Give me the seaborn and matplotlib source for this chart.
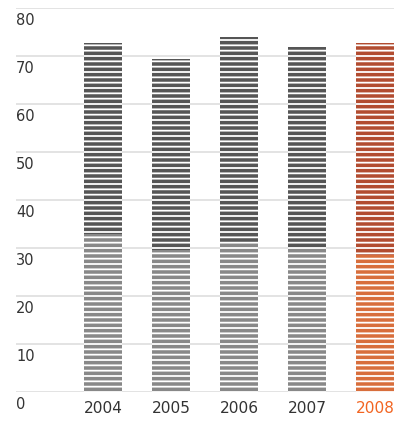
import matplotlib
matplotlib.use("Agg")
import matplotlib.pyplot as plt
import matplotlib.transforms as mtransforms
import seaborn as sns
import pandas as pd

# values
years = ["2004", "2005", "2006", "2007", "2008"]
totals = [72.7, 69.4, 73.9, 71.8, 72.8]
lower_part = [33.0, 29.6, 31.0, 30.0, 28.5]
yticks = [0, 10, 20, 30, 40, 50, 60, 70, 80]

dark_colors = ["#555555", "#555555", "#555555", "#555555", "#c83f1a"]
light_colors = ["#888888", "#888888", "#888888", "#888888", "#f26522"]
label_colors = ["#333333", "#333333", "#333333", "#333333", "#f26522"]

df = pd.DataFrame({"year": years, "total": totals, "lower": lower_part})

sns.set_style("white")
plt.rcParams["font.family"] = ["DejaVu Sans"]
plt.rcParams["hatch.linewidth"] = 1.35

DPI = 96
fig = plt.figure(figsize=(402 / DPI, 424 / DPI), dpi=DPI)
ax = fig.add_axes([16 / 402, 1 - 392 / 424, 378 / 402, 384 / 424])

sns.barplot(data=df, x="year", y="total", hue="year", legend=False,
            palette=dict(zip(years, dark_colors)), width=0.56, ax=ax)
sns.barplot(data=df, x="year", y="lower", hue="year", legend=False,
            palette=dict(zip(years, light_colors)), width=0.56, ax=ax)

# striped look: white horizontal hatch over the solid bars
for p in ax.patches:
    p.set_hatch("---")
    p.set_edgecolor("white")
    p.set_linewidth(0)

ax.set_xlim(-1.28, 4.28)
ax.set_ylim(0, 80)
ax.set_yticks(yticks)
ax.set_yticklabels([])
ax.tick_params(axis="y", length=0)
ax.yaxis.grid(True, color="#dddddd", linewidth=1.2)
ax.set_axisbelow(True)
for s in ax.spines.values():
    s.set_visible(False)

# y labels sit just under each grid line, at the left edge
trans = mtransforms.blended_transform_factory(ax.transAxes, ax.transData)
off = mtransforms.ScaledTranslation(0, -3.5 / 72, fig.dpi_scale_trans)
for t in yticks:
    ax.text(0, t, str(t), transform=trans + off, ha="left", va="top",
            fontsize=11, color="#333333")

ax.set_xlabel("")
ax.set_ylabel("")
ax.tick_params(axis="x", length=0, pad=7, labelsize=11.5)
for lbl, c in zip(ax.get_xticklabels(), label_colors):
    lbl.set_color(c)

fig.savefig("out.png", dpi=DPI)
